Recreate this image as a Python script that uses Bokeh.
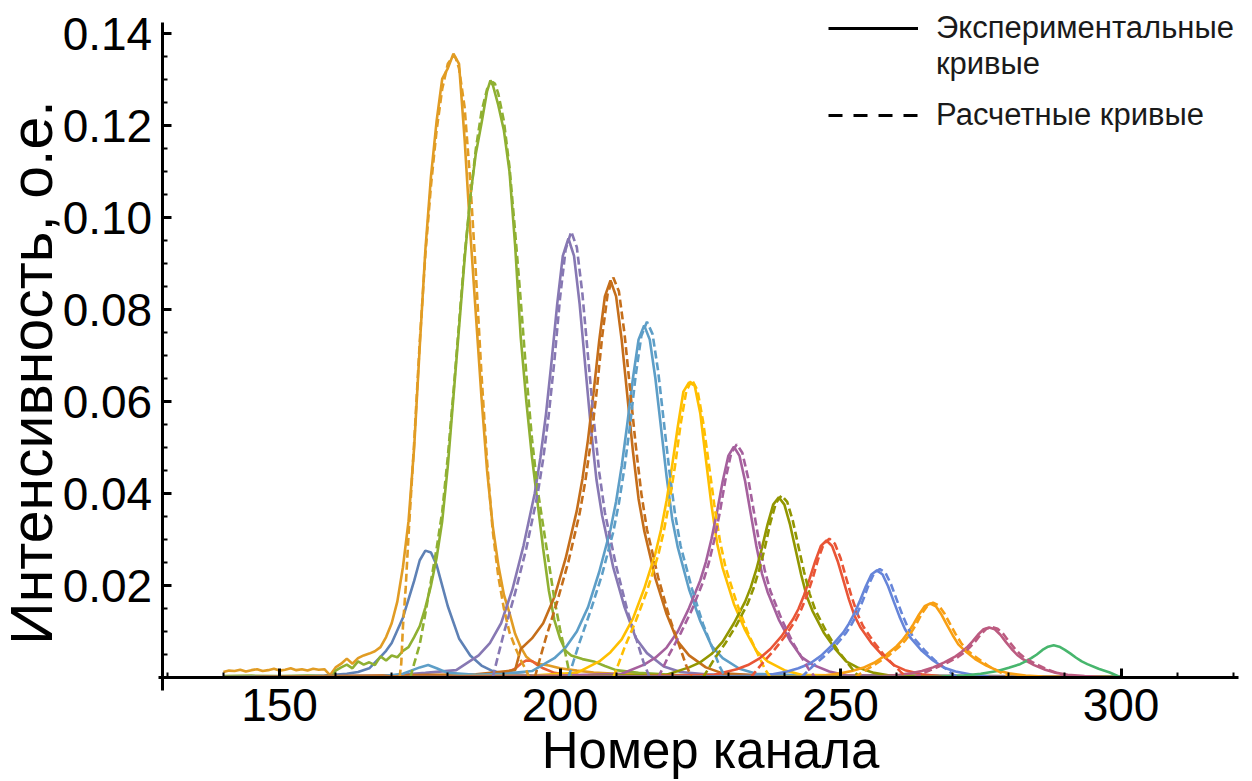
from math import pi
from bokeh.plotting import figure
from bokeh.models import Range1d, FixedTicker, Label, Legend, LegendItem, PrintfTickFormatter
from bokeh.embed import file_html
from bokeh.resources import INLINE

# ---------------- data (channel number, intensity) ----------------
# experimental curves (solid)
ch_exp_1 = [140, 150, 158, 162, 164, 166, 168, 169, 170, 172, 174, 175, 176, 177, 178, 180, 182, 184, 186, 188, 190, 195, 200, 300]
int_exp_1 = [0.0, 0.0002, 0.0004, 0.0008, 0.0012, 0.002, 0.0045, 0.0058, 0.0075, 0.013, 0.021, 0.0255, 0.0276, 0.0272, 0.0245, 0.0155, 0.0085, 0.0048, 0.0026, 0.0014, 0.0009, 0.0004, 0.0002, 0.0]

ch_exp_2 = [140, 141, 142, 143, 144, 145, 146, 147, 148, 149, 150, 151, 152, 153, 154, 155, 156, 157, 158, 159,
            160, 161, 162, 163, 164, 165, 166, 167, 168, 169, 170, 171, 172, 173, 174, 175, 176, 177, 178, 179,
            180, 181, 182, 183, 184, 185, 186, 187, 188, 189, 190, 191, 192, 193, 194, 195, 196, 198, 200, 203,
            206, 210, 220, 240, 300]
int_exp_2 = [0.0012, 0.0015, 0.0014, 0.0017, 0.0013, 0.0016, 0.0018, 0.0014, 0.0016, 0.0019, 0.0015, 0.0017, 0.002, 0.0016, 0.0018, 0.0015, 0.0019, 0.0017, 0.0018, 0.0005,
             0.0022, 0.003, 0.0041, 0.003, 0.0042, 0.0048, 0.0052, 0.0057, 0.0066, 0.0088, 0.0118, 0.0165, 0.024, 0.034, 0.05, 0.072, 0.093, 0.109, 0.121, 0.1302,
             0.1325, 0.1357, 0.1335, 0.117, 0.097, 0.079, 0.061, 0.045, 0.033, 0.0245, 0.018, 0.014, 0.0095, 0.0066, 0.0045, 0.0035, 0.003, 0.0026, 0.002, 0.0015,
             0.0011, 0.0008, 0.0005, 0.0003, 0.0002]

ch_exp_3 = [140, 145, 150, 155, 158, 159.5, 160, 161, 162, 163, 164, 165, 166, 167, 168, 169, 170, 171, 172, 173,
            174, 175, 176, 177, 178, 179, 180, 181, 182, 183, 184, 185, 186, 187, 187.6, 188, 189, 190, 191, 192,
            193, 194, 195, 196, 197, 198, 199, 200, 201, 202, 204, 206, 208, 210, 214, 220, 240, 300]
int_exp_3 = [0.0003, 0.0004, 0.0003, 0.0004, 0.0003, 0.0003, 0.0015, 0.0022, 0.0028, 0.002, 0.0035, 0.0028, 0.0033, 0.0027, 0.0046, 0.0037, 0.0048, 0.0044, 0.0058, 0.0066,
             0.0088, 0.0112, 0.0152, 0.02, 0.026, 0.034, 0.046, 0.061, 0.076, 0.091, 0.1045, 0.114, 0.1205, 0.1275, 0.1299, 0.129, 0.1245, 0.119, 0.11, 0.094,
             0.074, 0.060, 0.048, 0.038, 0.028, 0.019, 0.0125, 0.0085, 0.0058, 0.0048, 0.004, 0.0035, 0.0025, 0.0016, 0.001, 0.0006, 0.0004, 0.0002]

ch_exp_4 = [140, 185, 190, 192, 193, 194, 195, 196, 197, 199, 202, 210, 300]
int_exp_4 = [0.0, 0.0002, 0.0008, 0.0019, 0.003, 0.0037, 0.0036, 0.0027, 0.002, 0.001, 0.0005, 0.0002, 0.0]

ch_exp_5 = [140, 170, 176, 181.5, 185.5, 187.5, 189.5, 191.5, 193.5, 195.5, 196.5, 197.5, 198.5, 199.5, 200.5, 201.5,
            202.5, 203.5, 204.5, 205.5, 206.5, 207.5, 209.5, 211.5, 213.5, 215.5, 218.5, 221.5, 226, 240, 300]
int_exp_5 = [0.0001, 0.0004, 0.001, 0.0016, 0.0048, 0.0075, 0.0118, 0.0191, 0.0287, 0.0401, 0.0478, 0.0573, 0.0688, 0.0812, 0.0917, 0.0955,
             0.0917, 0.0812, 0.0678, 0.0544, 0.043, 0.0353, 0.0239, 0.0153, 0.0086, 0.0053, 0.0024, 0.0012, 0.0007, 0.0004, 0.0002]

ch_exp_6 = [140, 185, 189, 192, 193, 195, 197, 199, 201, 203, 204, 205, 206, 207, 208, 209, 210, 211, 212, 213,
            214, 215, 217, 219, 221, 223, 226, 229, 235, 300]
int_exp_6 = [0.0, 0.0007, 0.0012, 0.0016, 0.0062, 0.0085, 0.0118, 0.0175, 0.0259, 0.0363, 0.0432, 0.0518, 0.0622, 0.0734, 0.0829, 0.0864, 0.0829, 0.0734, 0.0613, 0.0492,
             0.0389, 0.032, 0.0216, 0.0138, 0.0078, 0.0048, 0.0022, 0.0009, 0.0005, 0.0002]

ch_exp_7 = [140, 168, 172, 175, 176.5, 178, 180, 185, 190, 195, 199, 201, 203, 205, 207, 209, 210, 211, 212, 213,
            214, 215, 216, 217, 218, 219, 220, 221, 223, 225, 227, 229, 232, 235, 245, 300]
int_exp_7 = [0.0, 0.0002, 0.0008, 0.0022, 0.0027, 0.002, 0.001, 0.0006, 0.0008, 0.0014, 0.0042, 0.0065, 0.01, 0.0153, 0.023, 0.0322, 0.0383, 0.046, 0.0552, 0.0651,
             0.0735, 0.0766, 0.0735, 0.0651, 0.0544, 0.0437, 0.0345, 0.0283, 0.0192, 0.0123, 0.0069, 0.0042, 0.0019, 0.0008, 0.0004, 0.0002]

ch_exp_8 = [140, 195, 203, 207, 209, 211, 213, 215, 217, 218, 219, 220, 221, 222, 223, 224, 225, 226, 227, 228,
            229, 231, 233, 235, 237, 240, 243, 255, 300]
int_exp_8 = [0.0, 0.0004, 0.001, 0.0035, 0.0055, 0.0083, 0.0128, 0.0193, 0.027, 0.0321, 0.0385, 0.0462, 0.0546, 0.0622, 0.0642, 0.0635, 0.0575, 0.0475, 0.0375, 0.0292,
             0.0238, 0.016, 0.0103, 0.0058, 0.0035, 0.0016, 0.0006, 0.0003, 0.0001]

ch_exp_9 = [140, 200, 211, 215, 217, 219, 221, 223, 225, 226, 227, 228, 229, 230, 231, 232, 233, 234, 235, 236,
            237, 239, 241, 243, 245, 248, 251, 260, 300]
int_exp_9 = [0.0, 0.0004, 0.0008, 0.0028, 0.0043, 0.0065, 0.01, 0.0151, 0.0211, 0.0251, 0.0301, 0.0361, 0.0427, 0.0482, 0.0502, 0.0482, 0.0427, 0.0356, 0.0286, 0.0226,
             0.0186, 0.0126, 0.008, 0.0045, 0.0028, 0.0013, 0.0005, 0.0003, 0.0001]

ch_exp_10 = [140, 205, 219, 223, 225, 227, 229, 231, 233, 234, 235, 236, 237, 238, 239, 240, 241, 242, 243, 244,
             245, 247, 249, 251, 253, 256, 259, 270, 300]
int_exp_10 = [0.0, 0.0003, 0.0006, 0.0022, 0.0033, 0.0051, 0.0078, 0.0118, 0.0165, 0.0196, 0.0235, 0.0282, 0.0333, 0.0376, 0.0392, 0.0376, 0.0333, 0.0278, 0.0223, 0.0176,
              0.0145, 0.0098, 0.0063, 0.0035, 0.0022, 0.001, 0.0004, 0.0002, 0.0001]

ch_exp_11 = [140, 215, 227.5, 231.5, 233.5, 235.5, 237.5, 239.5, 241.5, 242.5, 243.5, 244.5, 245.5, 246.5, 247.5, 248.5, 249.5, 250.5, 251.5, 252.5,
             253.5, 255.5, 257.5, 259.5, 261.5, 264.5, 267.5, 280, 300]
int_exp_11 = [0.0, 0.0003, 0.0006, 0.0018, 0.0027, 0.0041, 0.0062, 0.009, 0.0126, 0.0149, 0.0179, 0.0215, 0.0253, 0.0286, 0.0298, 0.0286, 0.0253, 0.0212, 0.017, 0.0134,
              0.011, 0.0075, 0.0048, 0.0027, 0.0016, 0.0007, 0.0003, 0.0001, 0.0]

ch_exp_12 = [140, 225, 236.5, 240.5, 242.5, 244.5, 246.5, 248.5, 250.5, 251.5, 252.5, 253.5, 254.5, 255.5, 256.5, 257.5, 258.5, 259.5, 260.5, 261.5,
             262.5, 264.5, 266.5, 268.5, 270.5, 273.5, 276.5, 290, 300]
int_exp_12 = [0.0, 0.0002, 0.00035, 0.0013, 0.002, 0.003, 0.0047, 0.007, 0.0098, 0.0117, 0.014, 0.0168, 0.0198, 0.0224, 0.0233, 0.0224, 0.0198, 0.0165, 0.0133, 0.0105,
              0.0086, 0.0058, 0.0037, 0.0021, 0.0013, 0.0006, 0.0002, 0.0001, 0.0]

ch_exp_13 = [140, 235, 246, 250, 252, 254, 256, 258, 260, 261, 262, 263, 264, 265, 266, 267, 268, 269, 270, 271,
             272, 274, 276, 278, 280, 283, 286, 295, 300]
int_exp_13 = [0.0, 0.0001, 0.00024, 0.0009, 0.0014, 0.0021, 0.0032, 0.0048, 0.0068, 0.0081, 0.0097, 0.0116, 0.0137, 0.0155, 0.0161, 0.0155, 0.0137, 0.0114, 0.0092, 0.0072,
              0.006, 0.004, 0.0026, 0.0015, 0.0009, 0.0004, 0.0002, 0.0001, 0.0]

ch_exp_14 = [140, 245, 256.5, 260.5, 262.5, 264.5, 266.5, 268.5, 270.5, 271.5, 272.5, 273.5, 274.5, 275.5, 276.5, 277.5, 278.5, 279.5, 280.5, 281.5,
             282.5, 284.5, 286.5, 288.5, 290.5, 293.5, 296.5, 300]
int_exp_14 = [0.0, 0.0001, 0.00016, 0.0006, 0.0009, 0.0014, 0.0022, 0.0033, 0.0046, 0.0055, 0.0065, 0.0078, 0.0093, 0.0105, 0.0109, 0.0105, 0.0093, 0.0077, 0.0062, 0.0049,
              0.004, 0.0027, 0.0017, 0.001, 0.0006, 0.0003, 0.0001, 0.0]

ch_exp_15 = [140, 265, 268, 272, 275, 278, 280, 282, 283, 284, 285, 286, 287, 288, 289, 290, 291, 292, 293, 294, 296, 298, 300]
int_exp_15 = [0.0, 0.0001, 0.0002, 0.0004, 0.0008, 0.0014, 0.0021, 0.0029, 0.0035, 0.0042, 0.005, 0.006, 0.0067, 0.007, 0.0067, 0.006, 0.0052, 0.0043, 0.0035, 0.0029, 0.0019, 0.0011, 0.0]

# calculated curves (dashed)
ch_fit_2 = [171.4, 171.7, 172, 172.5, 173, 174, 175, 176, 177, 178, 179, 180, 181, 181.4, 182, 183, 184, 185, 186, 187, 188, 189, 190, 191, 192, 193, 194, 194.5]
int_fit_2 = [0.0, 0.003, 0.011, 0.0196, 0.031, 0.051, 0.073, 0.092, 0.107, 0.119, 0.128, 0.1335, 0.1352, 0.1348, 0.1325, 0.124, 0.108, 0.088, 0.066, 0.047, 0.032, 0.022, 0.015, 0.0098, 0.0066, 0.0038, 0.0015, 0.0]

ch_fit_3 = [173.3, 173.6, 174, 175, 176, 177, 178, 179, 180, 181, 182, 183, 184, 185, 186, 187, 188, 188.4, 189, 190, 191, 192, 193, 194, 195, 196, 197, 198, 199, 200, 201, 201.5, 202]
int_fit_3 = [0.0, 0.0012, 0.003, 0.0072, 0.0139, 0.021, 0.028, 0.036, 0.048, 0.062, 0.077, 0.092, 0.104, 0.115, 0.123, 0.128, 0.1295, 0.1292, 0.127, 0.121, 0.111, 0.097, 0.082, 0.066, 0.052, 0.041, 0.033, 0.025, 0.017, 0.0105, 0.005, 0.002, 0.0]

ch_fit_5 = [188, 189, 190, 192, 194, 196, 197, 198, 199, 200, 201, 202, 203, 204, 205, 206, 207, 208, 210, 212, 214, 215, 216]
int_fit_5 = [0.0, 0.0049, 0.0097, 0.0184, 0.0281, 0.0398, 0.0475, 0.0572, 0.0689, 0.0825, 0.0931, 0.097, 0.0936, 0.0834, 0.0698, 0.0563, 0.0446, 0.0359, 0.0243, 0.0146, 0.0068, 0.0029, 0.0]

ch_fit_6 = [195.5, 196.5, 197.5, 199.5, 201.5, 203.5, 204.5, 205.5, 206.5, 207.5, 208.5, 209.5, 210.5, 211.5, 212.5, 213.5, 214.5, 215.5, 217.5, 219.5, 221.5, 222.5, 223.5]
int_fit_6 = [0.0, 0.0044, 0.0087, 0.0165, 0.0252, 0.0357, 0.0426, 0.0513, 0.0618, 0.074, 0.0835, 0.087, 0.084, 0.0748, 0.0626, 0.0505, 0.04, 0.0322, 0.0218, 0.0131, 0.0061, 0.0026, 0.0]

ch_fit_7 = [201.5, 202.5, 203.5, 205.5, 207.5, 209.5, 210.5, 211.5, 212.5, 213.5, 214.5, 215.5, 216.5, 217.5, 218.5, 219.5, 220.5, 221.5, 223.5, 225.5, 227.5, 228.5, 229.5]
int_fit_7 = [0.0, 0.0039, 0.0077, 0.0147, 0.0224, 0.0317, 0.0379, 0.0457, 0.055, 0.0658, 0.0743, 0.0774, 0.0747, 0.0666, 0.0557, 0.0449, 0.0356, 0.0286, 0.0194, 0.0116, 0.0054, 0.0023, 0.0]

ch_fit_8 = [209.5, 210.5, 211.5, 213.5, 215.5, 217.5, 218.5, 219.5, 220.5, 221.5, 222.5, 223.5, 224.5, 225.5, 226.5, 227.5, 228.5, 229.5, 231.5, 233.5, 235.5, 236.5, 237.5]
int_fit_8 = [0.0, 0.0032, 0.0065, 0.0123, 0.0188, 0.0266, 0.0318, 0.0382, 0.046, 0.0551, 0.0622, 0.0648, 0.0625, 0.0557, 0.0467, 0.0376, 0.0298, 0.024, 0.0162, 0.0097, 0.0045, 0.0019, 0.0]

ch_fit_9 = [217.5, 218.5, 219.5, 221.5, 223.5, 225.5, 226.5, 227.5, 228.5, 229.5, 230.5, 231.5, 232.5, 233.5, 234.5, 235.5, 236.5, 237.5, 239.5, 241.5, 243.5, 244.5, 245.5]
int_fit_9 = [0.0, 0.0025, 0.0051, 0.0096, 0.0147, 0.0208, 0.0248, 0.0299, 0.036, 0.0431, 0.0487, 0.0507, 0.0489, 0.0436, 0.0365, 0.0294, 0.0233, 0.0188, 0.0127, 0.0076, 0.0035, 0.0015, 0.0]

ch_fit_10 = [225.5, 226.5, 227.5, 229.5, 231.5, 233.5, 234.5, 235.5, 236.5, 237.5, 238.5, 239.5, 240.5, 241.5, 242.5, 243.5, 244.5, 245.5, 247.5, 249.5, 251.5, 252.5, 253.5]
int_fit_10 = [0.0, 0.002, 0.004, 0.0075, 0.0115, 0.0162, 0.0194, 0.0234, 0.0281, 0.0337, 0.038, 0.0396, 0.0382, 0.0341, 0.0285, 0.023, 0.0182, 0.0147, 0.0099, 0.0059, 0.0028, 0.0012, 0.0]

ch_fit_11 = [234, 235, 236, 238, 240, 242, 243, 244, 245, 246, 247, 248, 249, 250, 251, 252, 253, 254, 256, 258, 260, 261, 262]
int_fit_11 = [0.0, 0.0015, 0.003, 0.0057, 0.0088, 0.0124, 0.0148, 0.0178, 0.0214, 0.0257, 0.029, 0.0302, 0.0291, 0.026, 0.0217, 0.0175, 0.0139, 0.0112, 0.0076, 0.0045, 0.0021, 0.0009, 0.0]

ch_fit_12 = [243, 244, 245, 247, 249, 251, 252, 253, 254, 255, 256, 257, 258, 259, 260, 261, 262, 263, 265, 267, 269, 270, 271]
int_fit_12 = [0.0, 0.0012, 0.0024, 0.0045, 0.0068, 0.0097, 0.0116, 0.0139, 0.0168, 0.0201, 0.0227, 0.0236, 0.0228, 0.0203, 0.017, 0.0137, 0.0109, 0.0087, 0.0059, 0.0035, 0.0017, 0.0007, 0.0]

ch_fit_13 = [252.5, 253.5, 254.5, 256.5, 258.5, 260.5, 261.5, 262.5, 263.5, 264.5, 265.5, 266.5, 267.5, 268.5, 269.5, 270.5, 271.5, 272.5, 274.5, 276.5, 278.5, 279.5, 280.5]
int_fit_13 = [0.0, 0.0008, 0.0016, 0.0031, 0.0047, 0.0067, 0.008, 0.0096, 0.0116, 0.0139, 0.0156, 0.0163, 0.0157, 0.014, 0.0117, 0.0095, 0.0075, 0.006, 0.0041, 0.0024, 0.0011, 0.0005, 0.0]

ch_fit_14 = [263, 264, 265, 267, 269, 271, 272, 273, 274, 275, 276, 277, 278, 279, 280, 281, 282, 283, 285, 287, 289, 290, 291]
int_fit_14 = [0.0, 0.00055, 0.0011, 0.0021, 0.0032, 0.0045, 0.0054, 0.0065, 0.0078, 0.0094, 0.0106, 0.011, 0.0106, 0.0095, 0.0079, 0.0064, 0.0051, 0.0041, 0.0028, 0.0017, 0.0008, 0.0003, 0.0]

curve_colors = ["#5E81B5", "#E19C24", "#8FB032", "#EB6235", "#8778B3", "#C56E1A", "#5D9EC7", "#FFBF00",
                "#A5609D", "#929600", "#E95536", "#6685D9", "#F89F13", "#BC5B80", "#47B66D"]

x_major_ticks = [150, 200, 250, 300]
x_minor_ticks = [130, 140, 160, 170, 180, 190, 210, 220, 230, 240, 260, 270, 280, 290, 310, 320]
y_major_ticks = [0.02, 0.04, 0.06, 0.08, 0.10, 0.12, 0.14]
y_minor_ticks = [0.005, 0.01, 0.015, 0.025, 0.03, 0.035, 0.045, 0.05, 0.055, 0.065, 0.07, 0.075,
                 0.085, 0.09, 0.095, 0.105, 0.11, 0.115, 0.125, 0.13, 0.135]

x_title = "Номер канала"
y_title = "Интенсивность, о.е."
legend_exp_1 = "Экспериментальные"
legend_exp_2 = "кривые"
legend_fit = "Расчетные кривые"

exp_curves = [
    (ch_exp_1, int_exp_1, 0), (ch_exp_2, int_exp_2, 1), (ch_exp_3, int_exp_3, 2), (ch_exp_4, int_exp_4, 3),
    (ch_exp_5, int_exp_5, 4), (ch_exp_6, int_exp_6, 5), (ch_exp_7, int_exp_7, 6), (ch_exp_8, int_exp_8, 7),
    (ch_exp_9, int_exp_9, 8), (ch_exp_10, int_exp_10, 9), (ch_exp_11, int_exp_11, 10), (ch_exp_12, int_exp_12, 11),
    (ch_exp_13, int_exp_13, 12), (ch_exp_14, int_exp_14, 13), (ch_exp_15, int_exp_15, 14),
]
fit_curves = [
    (ch_fit_2, int_fit_2, 1), (ch_fit_3, int_fit_3, 2), (ch_fit_5, int_fit_5, 4), (ch_fit_6, int_fit_6, 5),
    (ch_fit_7, int_fit_7, 6), (ch_fit_8, int_fit_8, 7), (ch_fit_9, int_fit_9, 8), (ch_fit_10, int_fit_10, 9),
    (ch_fit_11, int_fit_11, 10), (ch_fit_12, int_fit_12, 11), (ch_fit_13, int_fit_13, 12), (ch_fit_14, int_fit_14, 13),
]

# ---------------- figure ----------------
FONT = "Liberation Sans"
# the frame covers the whole canvas; axes are drawn at fixed data positions
X0, X1 = 100.267, 323.44
Y0, Y1 = -0.022624, 0.14727
AXIS_X_START, AXIS_X_END = 128.43, 320.94
AXIS_Y_START, AXIS_Y_END = -0.002828, 0.1425
Y_AXIS_AT = 129.09

p = figure(width=1252, height=781, output_backend="svg", toolbar_location=None,
           x_range=Range1d(X0, X1), y_range=Range1d(Y0, Y1),
           min_border_left=0, min_border_right=0, min_border_top=0, min_border_bottom=0)
p.outline_line_color = None
p.xgrid.visible = False
p.ygrid.visible = False
p.background_fill_color = "white"
p.border_fill_color = "white"

for xs, ys, ci in exp_curves:
    assert len(xs) == len(ys)
    p.line(x=xs, y=ys, line_color=curve_colors[ci], line_width=2.6)
for xs, ys, ci in fit_curves:
    assert len(xs) == len(ys)
    p.line(x=xs, y=ys, line_color=curve_colors[ci], line_width=2.6, line_dash="8 4")

# axes in Mathematica style (crossing near the origin)
xa = p.xaxis[0]
xa.fixed_location = 0
xa.bounds = (AXIS_X_START, AXIS_X_END)
xa.ticker = FixedTicker(ticks=x_major_ticks, minor_ticks=x_minor_ticks)
ya = p.yaxis[0]
ya.fixed_location = Y_AXIS_AT
ya.bounds = (AXIS_Y_START, AXIS_Y_END)
ya.ticker = FixedTicker(ticks=y_major_ticks, minor_ticks=y_minor_ticks)
ya.formatter = PrintfTickFormatter(format="%.2f")
for ax in (xa, ya):
    ax.axis_line_width = 3
    ax.axis_line_color = "black"
    ax.major_tick_in = 9
    ax.major_tick_out = 0
    ax.minor_tick_in = 5
    ax.minor_tick_out = 0
    ax.major_tick_line_width = 3
    ax.minor_tick_line_width = 2
    ax.major_label_text_font = FONT
    ax.major_label_text_font_size = "46px"
    ax.major_label_text_color = "black"
xa.major_label_standoff = 12
ya.major_label_standoff = 10

p.add_layout(Label(x=710, y=31, x_units="screen", y_units="screen", text=x_title,
                   text_align="center", text_baseline="alphabetic", text_font=FONT,
                   text_font_size="51px", text_color="black"))
p.add_layout(Label(x=31, y=409, x_units="screen", y_units="screen", text=y_title, angle=pi / 2,
                   text_align="center", text_baseline="middle", text_font=FONT,
                   text_font_size="59px", text_color="black"))

# legend swatches: one-point lines (draw nothing in the plot)
r_solid = p.line(x=ch_exp_1[:1], y=int_exp_1[:1], line_color="black", line_width=3)
r_blank = p.line(x=ch_exp_1[:1], y=int_exp_1[:1], line_color="black", line_alpha=0)
r_dash = p.line(x=ch_exp_1[:1], y=int_exp_1[:1], line_color="black", line_width=3, line_dash="14 11")
legend_style = dict(padding=0, margin=0, spacing=0, glyph_width=90, glyph_height=30, label_standoff=18,
                    label_text_font=FONT, label_text_font_size="31px", label_text_color="#1a1a1a",
                    border_line_color=None, background_fill_alpha=0)
legend_a = Legend(items=[LegendItem(label=legend_exp_1, renderers=[r_solid]),
                         LegendItem(label=legend_exp_2, renderers=[r_blank])],
                  location=(828, 699), **legend_style)
legend_b = Legend(items=[LegendItem(label=legend_fit, renderers=[r_dash])],
                  location=(828, 648), **legend_style)
p.add_layout(legend_a)
p.add_layout(legend_b)

open("out.html", "w").write(file_html(p, INLINE))
